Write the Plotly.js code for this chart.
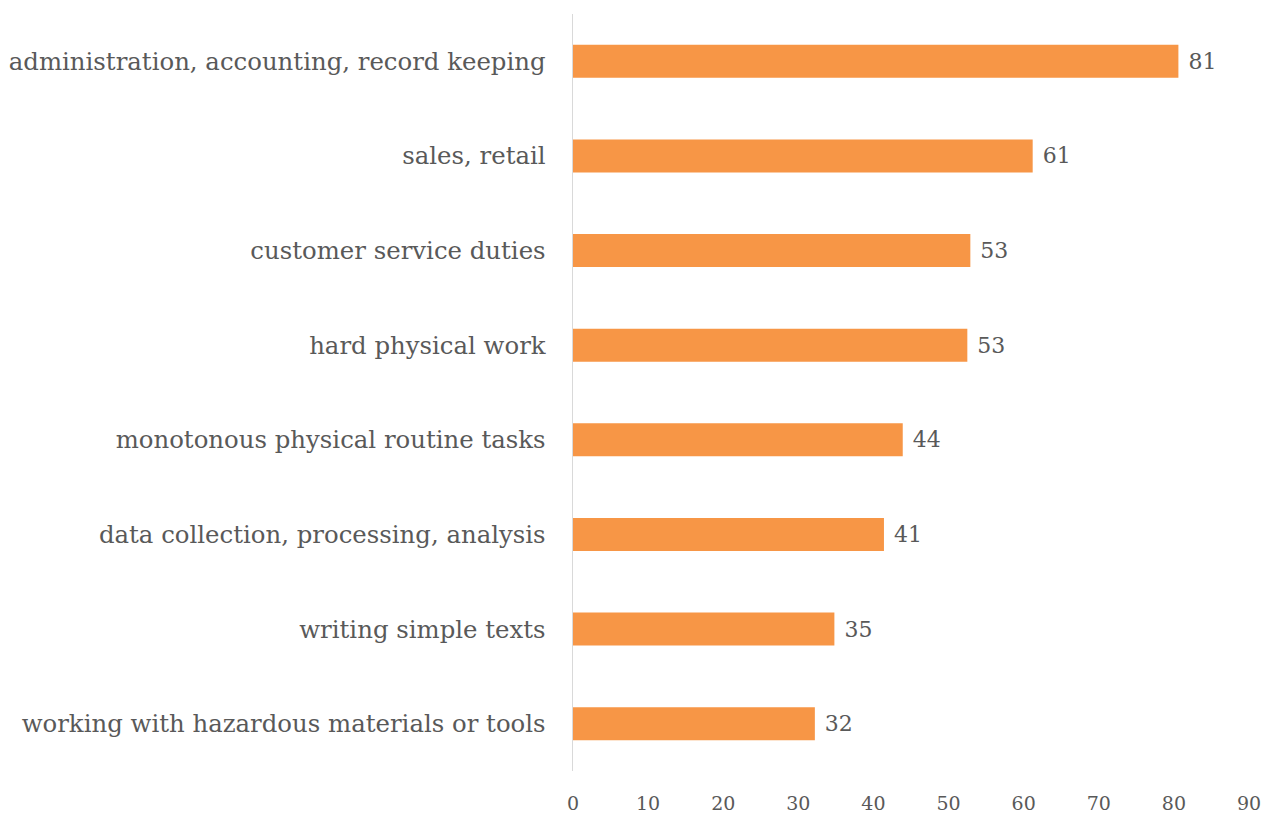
<!DOCTYPE html>
<html><head><meta charset="utf-8">
<script src="https://cdn.plot.ly/plotly-3.0.1.min.js"></script>
<style>html,body{margin:0;padding:0;background:#fff}#chart{width:1266px;height:816px}</style>
</head><body><div id="chart"></div>
<script>
const categories = [
  "administration, accounting, record keeping",
  "sales, retail",
  "customer service duties",
  "hard physical work",
  "monotonous physical routine tasks",
  "data collection, processing, analysis",
  "writing simple texts",
  "working with hazardous materials or tools"
];
const values = [80.6, 61.2, 52.9, 52.5, 43.9, 41.4, 34.8, 32.2];
const xTicks = [0, 10, 20, 30, 40, 50, 60, 70, 80, 90];

const FONT = "'DejaVu Serif', 'Liberation Serif', serif";
const trace = {
  type: 'bar', orientation: 'h',
  y: categories, x: values,
  marker: {color: '#F79646'},
  texttemplate: '\u00a0%{x:.0f}',
  textposition: 'outside',
  cliponaxis: false,
  textfont: {family: FONT, size: 22, color: '#595959'},
  hoverinfo: 'none'
};
const layout = {
  width: 1266, height: 816,
  margin: {l: 573, r: 17, t: 14, b: 45},
  paper_bgcolor: '#fff', plot_bgcolor: '#fff',
  bargap: 0.65,
  showlegend: false,
  font: {family: FONT, color: '#595959'},
  xaxis: {
    range: [0, 90], tickvals: xTicks, ticktext: xTicks.map(String),
    showgrid: false, zeroline: false, showline: false,
    ticks: '', ticklabelstandoff: 19,
    tickfont: {family: FONT, size: 19, color: '#595959'}
  },
  yaxis: {
    autorange: 'reversed', showgrid: false, zeroline: false,
    showline: true, linecolor: '#D9D9D9', linewidth: 1.5,
    ticks: '', ticklabelstandoff: 21,
    tickfont: {family: FONT, size: 24.4, color: '#595959'}
  }
};
Plotly.newPlot('chart', [trace], layout, {displayModeBar: false, staticPlot: true});
</script></body></html>
